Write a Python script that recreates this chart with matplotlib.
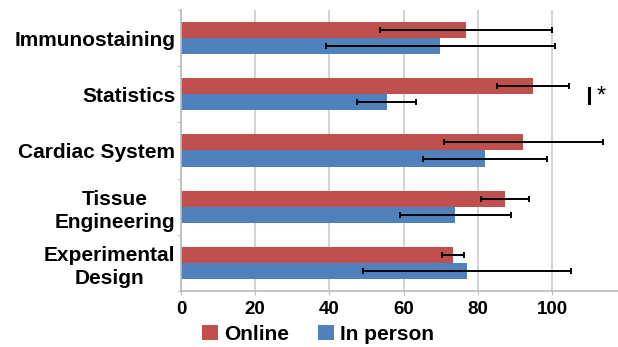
import matplotlib.pyplot as plt
import numpy as np

plt.rcParams['font.family'] = ['Liberation Sans', 'DejaVu Sans']

categories = ["Immunostaining", "Statistics", "Cardiac System",
              "Tissue\nEngineering", "Experimental\nDesign"]
online = [76.8, 94.9, 92.3, 87.3, 73.3]
online_err = [23.1, 9.6, 21.5, 6.5, 3.0]
in_person = [69.9, 55.4, 81.9, 73.9, 77.0]
in_person_err = [30.8, 8.0, 16.7, 15.0, 28.0]
xticks = [0, 20, 40, 60, 80, 100]

red = "#C0504D"
blue = "#4F81BD"

fig = plt.figure(figsize=(6.18, 3.47), dpi=100)
ax = fig.add_axes([181/618, 1 - 291/347, 1 - 181/618, 281/347])

y = np.arange(len(categories))
h = 0.285
err_kw = dict(ecolor="black", elinewidth=1.4, capsize=2, capthick=1.4)
ax.barh(y - h/2, online, height=h, color=red, xerr=online_err,
        error_kw=err_kw, label="Online", zorder=2)
ax.barh(y + h/2, in_person, height=h, color=blue, xerr=in_person_err,
        error_kw=err_kw, label="In person", zorder=2)

ax.set_ylim(len(categories) - 0.5, -0.5)
ax.set_xlim(0, 117.8)
ax.set_yticks(y)
ax.set_yticklabels(categories, fontsize=15, fontweight="bold",
                   linespacing=1.3, multialignment="center")
ax.set_yticks(np.arange(len(categories) + 1) - 0.5, minor=True)
ax.tick_params(axis="y", which="major", length=0, pad=4)
ax.tick_params(axis="y", which="minor", length=3, color="#bbbbbb")
ax.set_xticks(xticks)
ax.set_xticklabels([str(t) for t in xticks], fontsize=13.5, fontweight="bold")
ax.tick_params(axis="x", length=3, color="#bbbbbb", pad=4)

ax.grid(axis="x", color="#cccccc", linewidth=1.2, zorder=0)
for side in ["top", "right"]:
    ax.spines[side].set_visible(False)
for side in ["left", "bottom"]:
    ax.spines[side].set_color("#bbbbbb")
    ax.spines[side].set_linewidth(1.2)

# significance marker for Statistics
ax.plot([110.0, 110.0], [0.88, 1.15], color="black", linewidth=2.2, zorder=3)
ax.text(113.2, 0.84, "*", fontsize=17, va="top", ha="center")

fig.legend(loc="lower center", bbox_to_anchor=(0.515, -0.045), ncol=2,
           frameon=False, prop={"size": 15, "weight": "bold"},
           handlelength=0.75, handleheight=0.75, handletextpad=0.3,
           columnspacing=1.4)

fig.savefig("out.png", dpi=100)
